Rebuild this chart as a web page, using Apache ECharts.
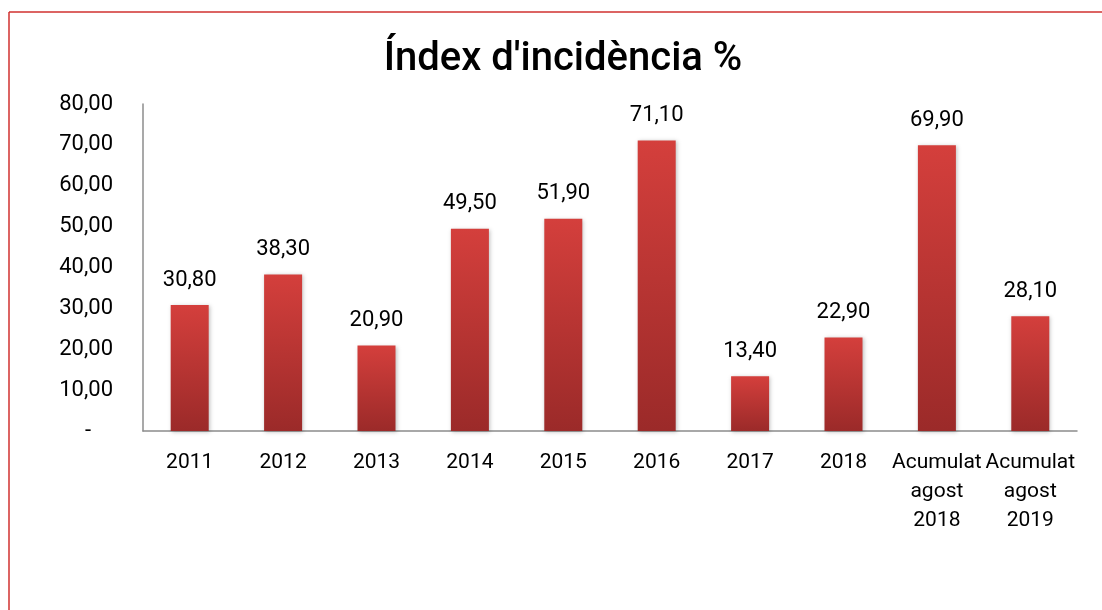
<!DOCTYPE html>
<html>
<head>
<meta charset="utf-8">
<script src="https://cdn.jsdelivr.net/npm/echarts@6/dist/echarts.min.js"></script>
<style>
  html, body { margin: 0; padding: 0; background: #fff; }
  #chart { width: 1102px; height: 610px; }
</style>
</head>
<body>
<div id="chart"></div>
<script>
// Incidence index per year, with the accumulated August figures
const categories = ['2011', '2012', '2013', '2014', '2015', '2016', '2017', '2018', 'Acumulat\nagost\n2018', 'Acumulat\nagost\n2019'];
const values = [30.8, 38.3, 20.9, 49.5, 51.9, 71.1, 13.4, 22.9, 69.9, 28.1];
const yTicks = [0, 10, 20, 30, 40, 50, 60, 70, 80];

// Accounting-style number format: comma decimals, dash for zero
const fmt = v => v === 0 ? '-    ' : v.toFixed(2).replace('.', ',');
const FONT = 'Roboto, "Noto Sans", sans-serif';

const chart = echarts.init(document.getElementById('chart'));
chart.setOption({
  backgroundColor: '#fff',
  animation: false,
  graphic: [
    { type: 'line', shape: { x1: 9, y1: 12, x2: 1102, y2: 12 }, style: { stroke: '#d0312f', lineWidth: 1.5 } },
    { type: 'line', shape: { x1: 9, y1: 12, x2: 9, y2: 610 }, style: { stroke: '#d0312f', lineWidth: 1.5 } }
  ],
  title: {
    text: 'Índex d\'incidència %',
    left: 558, top: 35, textAlign: 'center',
    textStyle: { fontFamily: FONT, fontSize: 40, fontWeight: 500, color: '#000' }
  },
  grid: { left: 143, right: 25, top: 104, bottom: 179, containLabel: false },
  xAxis: {
    type: 'category',
    data: categories,
    axisLine: { lineStyle: { color: '#8c8c8c', width: 1.5 } },
    axisTick: { show: false },
    axisLabel: { fontFamily: FONT, fontSize: 21, color: '#000', lineHeight: 29, margin: 17, interval: 0 }
  },
  yAxis: {
    type: 'value',
    min: 0, max: yTicks[yTicks.length - 1], interval: 10,
    splitLine: { show: false },
    axisLine: { show: true, lineStyle: { color: '#8c8c8c', width: 1.5 } },
    axisTick: { show: false },
    axisLabel: { fontFamily: FONT, fontSize: 22, color: '#000', margin: 30, formatter: fmt }
  },
  series: [{
    type: 'bar',
    data: values,
    barWidth: 38,
    itemStyle: {
      color: new echarts.graphic.LinearGradient(0, 0, 0, 1, [
        { offset: 0, color: '#d43f3c' },
        { offset: 1, color: '#9b2a29' }
      ]),
      shadowColor: 'rgba(0,0,0,0.25)', shadowBlur: 4, shadowOffsetX: 1, shadowOffsetY: 1
    },
    label: {
      show: true, position: 'top', distance: 14,
      fontFamily: FONT, fontSize: 22, color: '#000',
      formatter: p => fmt(p.value)
    }
  }]
});
</script>
</body>
</html>
